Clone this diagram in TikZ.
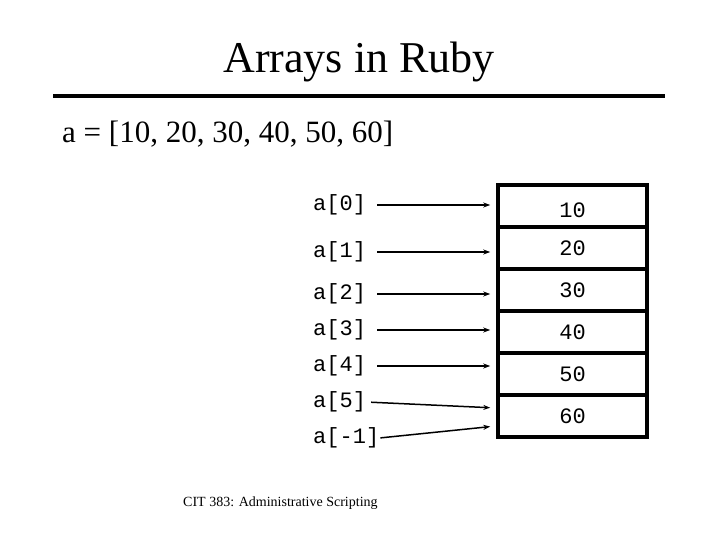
\documentclass[tikz,border=0pt]{standalone}
\usepackage{fontspec}
\setmainfont{Liberation Serif}
\setmonofont{Liberation Mono}
\usepackage{tikz}
\usetikzlibrary{arrows.meta,positioning}

\begin{document}
\begin{tikzpicture}[
    x=1pt, y=-1pt,
    cell/.style={draw, line width=3.5pt, minimum width=149pt, minimum height=42pt, text centered, font=\fontsize{22}{24}\selectfont\ttfamily},
    idx/.style={anchor=west, inner sep=0pt, font=\fontsize{22}{24}\selectfont\ttfamily},
    arrow/.style={line width=1.5pt, -{Stealth[length=7pt,width=5pt]}, shorten >=6pt}
]
\useasboundingbox (0,0) rectangle (720,540);

\node (title) [anchor=base, font=\fontsize{44}{48}\selectfont] at (359,73) {Arrays in Ruby};
\coordinate (ruleL) at (53,96);
\coordinate (ruleR) at (665,96);
\draw [line width=4pt] (ruleL) -- (ruleR);
\node (code) [anchor=base west, inner sep=0pt, font=\fontsize{31}{34}\selectfont] at (62,143) {a = [10, 20, 30, 40, 50, 60]};

% the array cells
\node (c0) [cell] at (572.5,206) {\raisebox{-4pt}[\height][\depth]{10}};
\node (c1) [cell, below=-3.5pt of c0] {20};
\node (c2) [cell, below=-3.5pt of c1] {30};
\node (c3) [cell, below=-3.5pt of c2] {40};
\node (c4) [cell, below=-3.5pt of c3] {50};
\node (c5) [cell, below=-3.5pt of c4] {60};

% the indices
\node (i0) [idx] at (313,205) {a[0]};
\node (i1) [idx] at (313,252) {a[1]};
\node (i2) [idx] at (313,294) {a[2]};
\node (i3) [idx] at (313,330) {a[3]};
\node (i4) [idx] at (313,366) {a[4]};
\node (i5) [idx] at (313,402) {a[5]};
\node (im) [idx] at (313,438) {a[-1]};

\draw [arrow, shorten <=11pt] (i0.east) -- (i0.east -| c0.west);
\draw [arrow, shorten <=11pt] (i1.east) -- (i1.east -| c1.west);
\draw [arrow, shorten <=11pt] (i2.east) -- (i2.east -| c2.west);
\draw [arrow, shorten <=11pt] (i3.east) -- (i3.east -| c3.west);
\draw [arrow, shorten <=11pt] (i4.east) -- (i4.east -| c4.west);
\draw [arrow, shorten <=5pt] (i5.east) -- ([yshift=8pt]c5.west);
\draw [arrow, shorten <=1pt] (im.east) -- ([yshift=-10pt]c5.west);

\node (footer) [anchor=west, inner sep=0pt, font=\fontsize{14}{16}\selectfont] at (183,503) {CIT 383: Administrative Scripting};

\end{tikzpicture}
\end{document}
